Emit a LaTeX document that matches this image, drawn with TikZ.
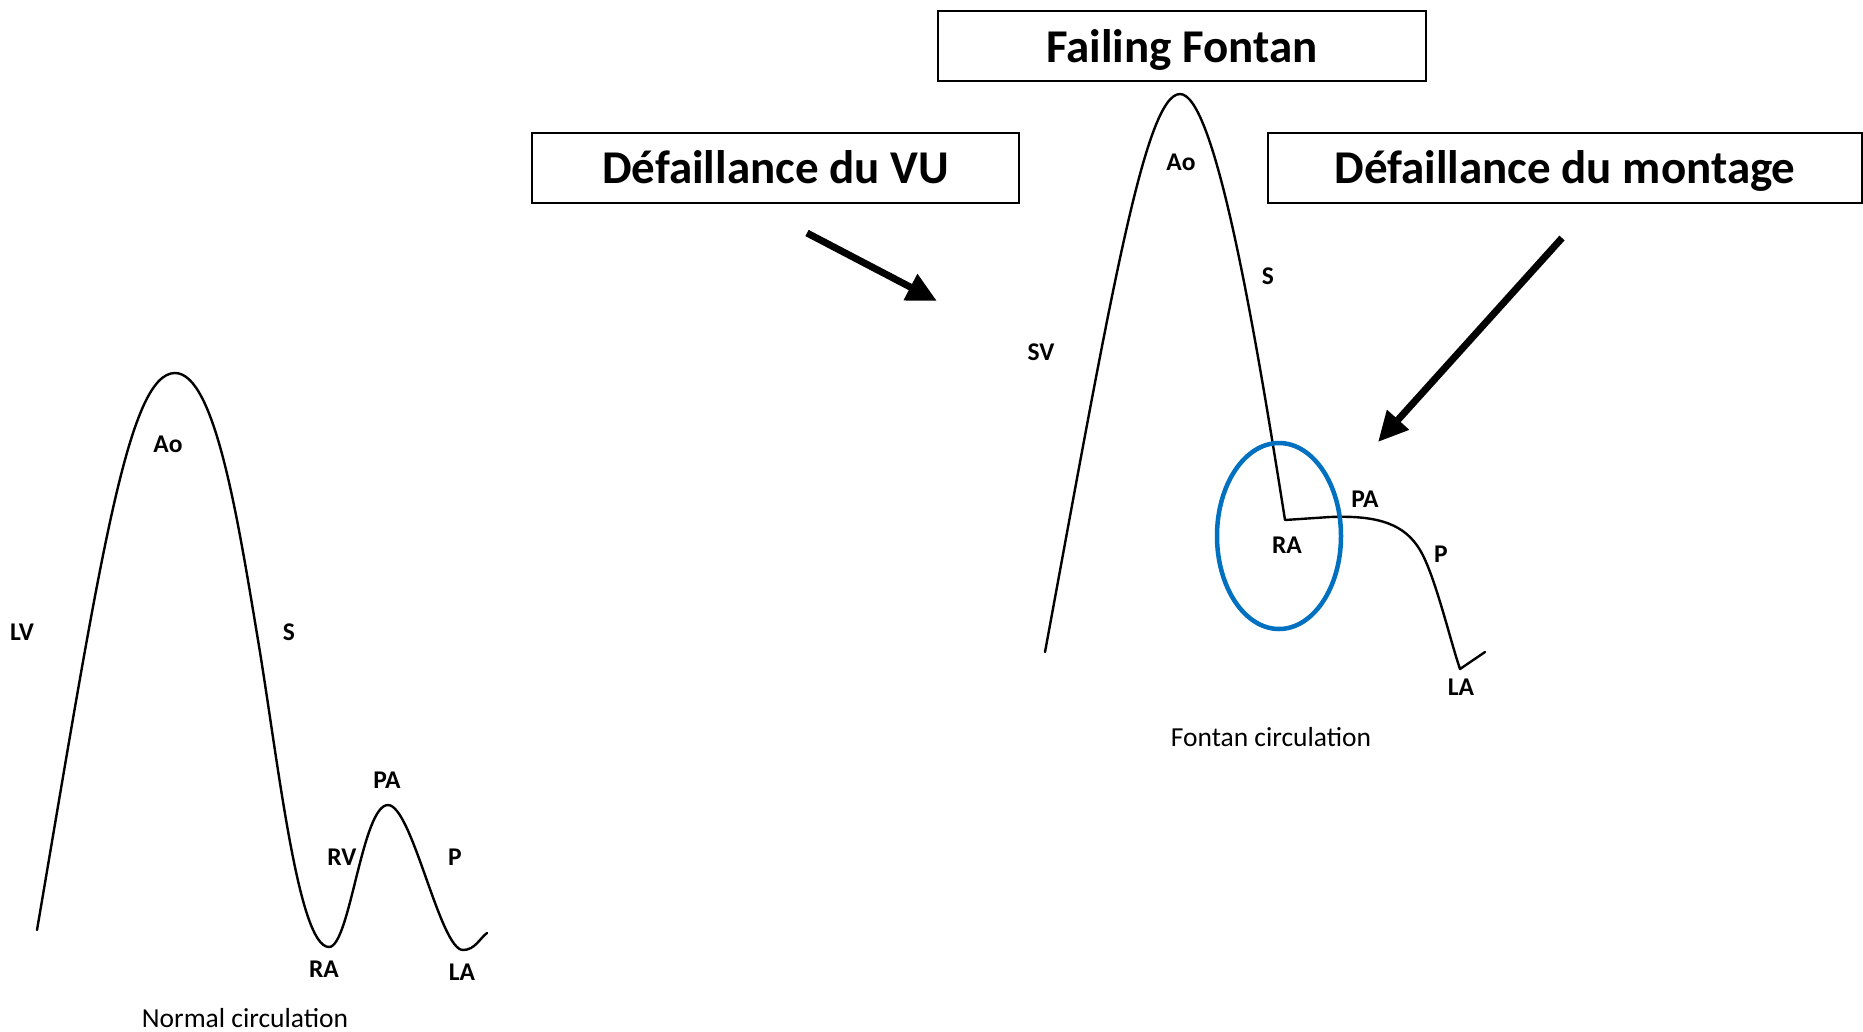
\documentclass[tikz,border=0pt]{standalone}
\usepackage{fontspec}
\setmainfont{Carlito}
\usetikzlibrary{arrows.meta}
\definecolor{ringblue}{HTML}{0070C0}
\newcommand{\boxtext}[1]{\raisebox{-16pt}[0pt][0pt]{#1}}
\begin{document}
\begin{tikzpicture}[x=1pt,y=-1pt,
  curve/.style={line width=2.4pt,line join=round,line cap=round},
  lab/.style={font=\fontsize{25.5}{27}\selectfont\bfseries,inner sep=0pt},
  captext/.style={font=\fontsize{27.5}{29}\selectfont,inner sep=0pt},
  titlebox/.style={draw,line width=2pt,minimum height=70pt,inner sep=0pt,font=\fontsize{47}{52}\selectfont\bfseries},
  bigarrow/.style={line width=7pt,-{Triangle[length=30pt,width=28pt]}}]
\useasboundingbox (0,0) rectangle (1863,1031);
% boxes
\node[titlebox,minimum width=488pt] (ff) at (1182,46) {\boxtext{Failing Fontan}};
\node[titlebox,minimum width=487pt] (vu) at (775.5,167.5) {\boxtext{Défaillance du VU}};
\node[titlebox,minimum width=594pt] (mo) at (1565,167.5) {\boxtext{Défaillance du montage}};
% arrows
\coordinate (a1s) at (807,233); \coordinate (a1e) at (937,301);
\coordinate (a2s) at (1562,238); \coordinate (a2e) at (1378,442);
\draw[bigarrow] (a1s) -- (a1e);
\draw[bigarrow] (a2s) -- (a2e);
% normal circulation curve
\draw[curve] (37,930) .. controls (100,560) and (128,373) .. (175,373)
  .. controls (215,373) and (238,520) .. (258,640)
  .. controls (278,760) and (298,947) .. (329,947)
  .. controls (350,947) and (362,805) .. (388,805)
  .. controls (412,805) and (440,950) .. (463,950)
  .. controls (475,950) and (480,938) .. (487,933);
\node[lab] (lv) at (22,632) {LV};
\node[lab] (ao1) at (168,444) {Ao};
\node[lab] (s1) at (289,632) {S};
\node[lab] (rv) at (342,857) {RV};
\node[lab] (pa1) at (387,780) {PA};
\node[lab] (p1) at (455,857) {P};
\node[lab] (ra1) at (324,969) {RA};
\node[lab] (la1) at (462,972) {LA};
\node[captext] (nc) at (245,1018) {Normal circulation};
% fontan curve
\draw[curve] (1045,652) .. controls (1110,300) and (1145,94) .. (1180,94)
  .. controls (1215,94) and (1255,330) .. (1285,520)
  -- (1330,517) .. controls (1380,515) and (1405,525) .. (1420,550)
  .. controls (1435,575) and (1450,640) .. (1460,669) -- (1485,652);
\draw[ringblue,line width=4.5pt] (1279,536) ellipse [x radius=62, y radius=93];
\node[lab] (ao2) at (1181,162) {Ao};
\node[lab] (sv) at (1041,352) {SV};
\node[lab] (s2) at (1268,276) {S};
\node[lab] (ra2) at (1287,545) {RA};
\node[lab] (pa2) at (1365,499) {PA};
\node[lab] (p2) at (1441,554) {P};
\node[lab] (la2) at (1461,687) {LA};
\node[captext] (fc) at (1271,737) {Fontan circulation};
\end{tikzpicture}
\end{document}
